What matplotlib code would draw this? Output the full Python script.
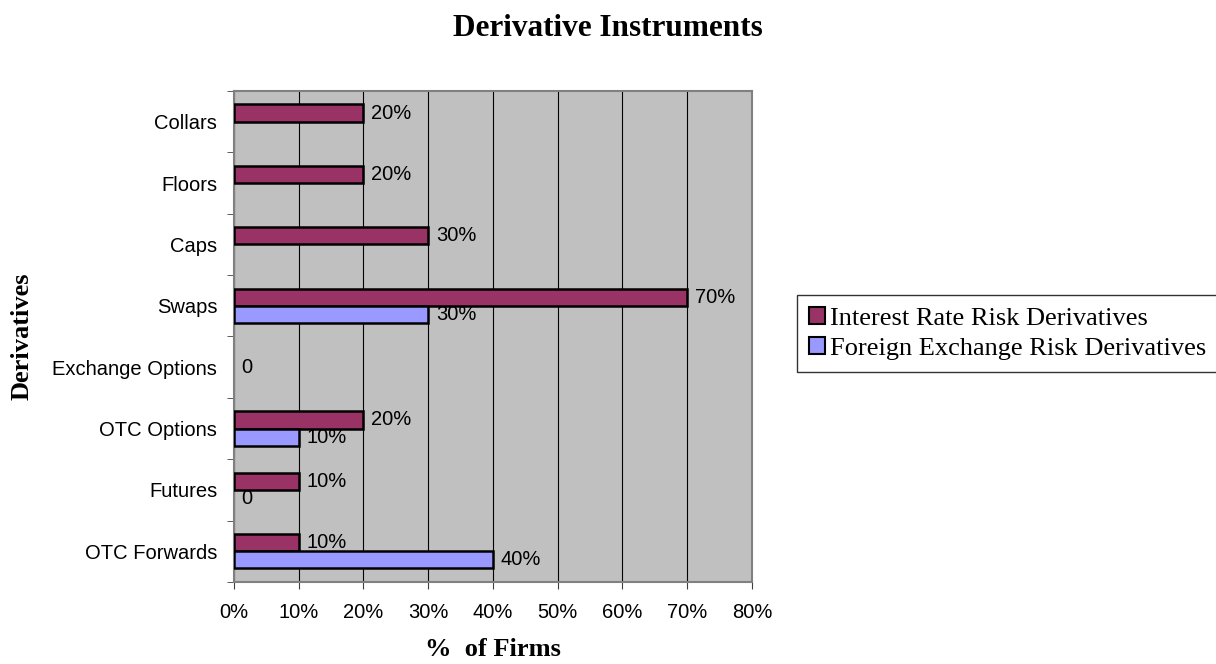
import matplotlib
matplotlib.use('Agg')
import matplotlib.pyplot as plt
import numpy as np

# data (percent of firms), bottom -> top
categories = ['OTC Forwards', 'Futures', 'OTC Options', 'Exchange Options',
              'Swaps', 'Caps', 'Floors', 'Collars']
interest_rate = [10, 10, 20, 0, 70, 30, 20, 20]
foreign_exchange = [40, 0, 10, 0, 30, None, None, None]
series_names = ['Interest Rate Risk Derivatives', 'Foreign Exchange Risk Derivatives']
xticks = [0, 10, 20, 30, 40, 50, 60, 70, 80]

IR_COLOR = '#993366'
FX_COLOR = '#9999FF'

fig = plt.figure(figsize=(12.16, 6.64), dpi=100)
ax = fig.add_axes([0.1924, 0.1235, 0.426, 0.7395])
ax.set_facecolor('#C0C0C0')

y = np.arange(len(categories))
h = 0.28
label_font = dict(family='Liberation Sans', fontsize=14.5)


def put_label(x, yy, v):
    ax.annotate(f'{v}%' if v else '0', (x, yy), xytext=(5.5, 0),
                textcoords='offset points', va='center', ha='left',
                zorder=4, **label_font)


for i in range(len(categories)):
    ir, fx = interest_rate[i], foreign_exchange[i]
    if ir == 0 and fx == 0:
        put_label(0, y[i], 0)
        continue
    if ir is not None:
        if ir:
            ax.barh(y[i] + h / 2, ir, height=h, color=IR_COLOR, edgecolor='black',
                    linewidth=1.8, zorder=3)
        put_label(ir, y[i] + h / 2, ir)
    if fx is not None:
        if fx:
            ax.barh(y[i] - h / 2, fx, height=h, color=FX_COLOR, edgecolor='black',
                    linewidth=1.8, zorder=3)
        put_label(fx, y[i] - h / 2, fx)

ax.set_xlim(0, 80)
ax.set_ylim(-0.5, len(categories) - 0.5)
ax.set_xticks(xticks)
ax.set_xticklabels([f'{t}%' for t in xticks], **label_font)
ax.set_yticks(y)
ax.set_yticklabels(categories, **label_font)
ax.set_yticks(np.arange(-0.5, len(categories)), minor=True)
ax.tick_params(axis='y', which='major', length=0, pad=12)
ax.tick_params(axis='y', which='minor', length=5, direction='out', color='#404040')
ax.tick_params(axis='x', length=5, direction='out', color='#404040', pad=10)

ax.grid(axis='x', color='black', linewidth=0.8, zorder=1)
ax.set_axisbelow(True)
for side in ['top', 'right', 'left', 'bottom']:
    ax.spines[side].set_color('#808080')
    ax.spines[side].set_linewidth(1.5)

fig.text(0.5, 1 - 29 / 664, 'Derivative Instruments', family='Liberation Serif',
         fontsize=22.5, fontweight='bold', ha='center', va='center')
fig.text((234 + 752) / 2 / 1216, 1 - 650 / 664, '%  of Firms', family='Liberation Serif',
         fontsize=19, fontweight='bold', ha='center', va='center')
fig.text(22 / 1216, 1 - 336 / 664, 'Derivatives', family='Liberation Serif',
         fontsize=19, fontweight='bold', ha='center', va='center', rotation=90)

handles = [plt.Rectangle((0, 0), 1, 1, facecolor=IR_COLOR, edgecolor='black', linewidth=1.5),
           plt.Rectangle((0, 0), 1, 1, facecolor=FX_COLOR, edgecolor='black', linewidth=1.5)]
leg = fig.legend(handles, series_names, loc='upper left',
                 bbox_to_anchor=(797 / 1216, 1 - 295 / 664), frameon=True, fancybox=False,
                 prop={'family': 'Liberation Serif', 'size': 19},
                 handlelength=0.6, handleheight=0.6, handletextpad=0.2,
                 borderpad=0.45, labelspacing=0.3, borderaxespad=0)
leg.get_frame().set_edgecolor('black')
leg.get_frame().set_linewidth(1.0)

plt.savefig('out.png', dpi=100)
plt.close()
